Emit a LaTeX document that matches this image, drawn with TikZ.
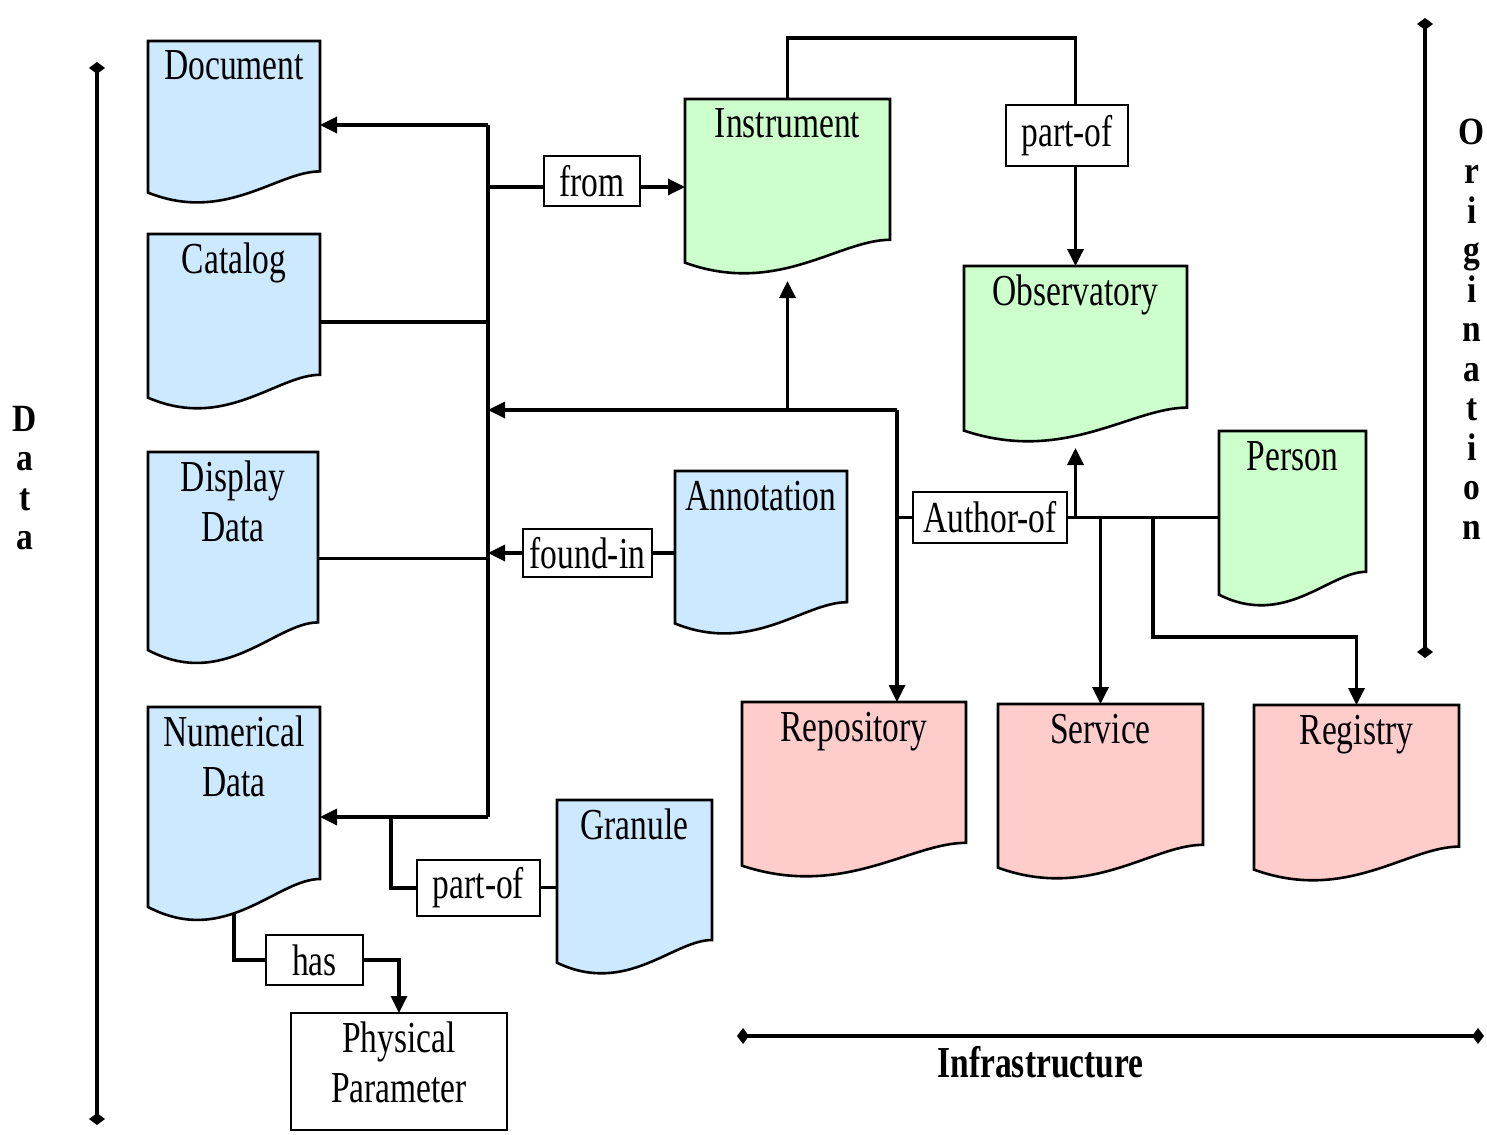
\documentclass[tikz,border=0pt]{standalone}
\usepackage{fontspec}
\setmainfont{Liberation Serif}
\usepackage{graphicx}
\usetikzlibrary{arrows.meta,calc,backgrounds}
\definecolor{dblue}{RGB}{204,233,255}
\definecolor{dgreen}{RGB}{204,255,204}
\definecolor{dpink}{RGB}{255,204,204}
\newcommand\vs[1]{\scalebox{1}[1.32]{#1}}
\newcommand\vl[1]{\scalebox{1}[1.15]{#1}}
\newcommand\mainfnt{\fontsize{33.5}{50}\selectfont}
\newcommand\axfnt{\fontsize{33.5}{39.5}\selectfont\bfseries}
\newcommand\dtext[3]{\parbox[t][#2pt][t]{#1pt}{\centering\rule{0pt}{39pt}#3}}
\newcommand\docoutline[2]{%
  \path[docline,fill=#2] let \p1=(#1.north west), \p2=(#1.south east) in
    (\x1,\y1) -- (\x2,\y1) -- (\x2,{\y1-0.80*(\y1-\y2)})
    .. controls ({\x1+0.75*(\x2-\x1)},{\y1-0.80*(\y1-\y2)}) and ({\x1+0.45*(\x2-\x1)},{\y1-1.12*(\y1-\y2)})
    .. (\x1,{\y1-0.93*(\y1-\y2)}) -- cycle;}
\tikzset{
  docnode/.style={inner sep=0pt, outer sep=0pt, anchor=north west, font=\mainfnt},
  docline/.style={draw=black, line width=2.6pt, line join=miter},
  lblbox/.style={draw=black, fill=white, line width=2.6pt, inner sep=0pt, outer sep=0pt, font=\mainfnt},
  conn/.style={line width=3.4pt},
  bus/.style={line width=4.8pt},
  arr/.style={arrows={-Triangle[length=17pt,width=16pt]}},
  axis/.style={line width=3.6pt, arrows={Diamond[length=12pt,width=16pt]-Diamond[length=12pt,width=16pt]}},
  axlbl/.style={font=\axfnt, align=center, inner sep=0pt}
}
\begin{document}
\begin{tikzpicture}[x=1pt,y=-1pt]
\useasboundingbox (0,0) rectangle (1487,1134);

% document-shaped nodes
\node[docnode] (document) at (148,41) {\dtext{172}{163}{\vs{Document}}};
\node[docnode] (catalog) at (148,234) {\dtext{172}{176}{\vs{Catalog}}};
\node[docnode] (display) at (148,452) {\dtext{170}{213}{\vs{Display}\\\vs{Data}}};
\node[docnode] (numerical) at (148,707) {\dtext{172}{215}{\vs{Numerical}\\\vs{Data}}};
\node[docnode] (instrument) at (685,99) {\dtext{205}{176}{\vs{Instrument}}};
\node[docnode] (observatory) at (964,266) {\dtext{223}{177}{\vs{Observatory}}};
\node[docnode] (person) at (1219,431) {\dtext{147}{176}{\vs{Person}}};
\node[docnode] (annotation) at (675,471) {\dtext{172}{164}{\vs{Annotation}}};
\node[docnode] (granule) at (557,800) {\dtext{155}{175}{\vs{Granule}}};
\node[docnode] (repository) at (742,702) {\dtext{224}{176}{\vs{Repository}}};
\node[docnode] (service) at (998,704) {\dtext{205}{176}{\vs{Service}}};
\node[docnode] (registry) at (1254,705) {\dtext{205}{177}{\vs{Registry}}};
\node[docnode, draw=black, fill=white, line width=2.6pt] (physical) at (291,1013) {\dtext{216}{117}{\vs{Physical}\\\vs{Parameter}}};

% relation labels
\node[lblbox, minimum width=96pt, minimum height=50pt] (from) at (592,181) {\vs{from}};
\node[lblbox, minimum width=122pt, minimum height=61pt] (partofA) at (1067,135.5) {\vs{part-of}};
\node[lblbox, minimum width=129pt, minimum height=48pt] (foundin) at (587.5,553) {\vs{found-in}};
\node[lblbox, minimum width=154pt, minimum height=51pt] (authorof) at (990,517.5) {\vs{Author-of}};
\node[lblbox, minimum width=123pt, minimum height=56pt] (partofB) at (478.5,888) {\vs{part-of}};
\node[lblbox, minimum width=97pt, minimum height=50pt] (has) at (314.5,960) {\vs{has}};

\begin{pgfonlayer}{background}
\fill[white] (0,0) rectangle (1487,1134);
\docoutline{document}{dblue}
\docoutline{catalog}{dblue}
\docoutline{display}{dblue}
\docoutline{numerical}{dblue}
\docoutline{annotation}{dblue}
\docoutline{granule}{dblue}
\docoutline{instrument}{dgreen}
\docoutline{observatory}{dgreen}
\docoutline{person}{dgreen}
\docoutline{repository}{dpink}
\docoutline{service}{dpink}
\docoutline{registry}{dpink}
\end{pgfonlayer}

% junction coordinates
\coordinate (bustop) at (488,125);
\coordinate (busbot) at (488,817);
\coordinate (jr) at (897,410);
\coordinate (toploop) at (1075.5,38);
\coordinate (regj) at (1153,518);
\coordinate (regturn) at (1153,637);
\coordinate (pj) at (391,817);

% left bus
\draw[bus] (bustop) -- (busbot);
\draw[conn,arr] (bustop) -- (document.east |- bustop);
\draw[conn,arr] (busbot) -- (numerical.east |- busbot);
\draw[conn] (catalog.east) -- (catalog.east -| bustop);
\draw[conn] (display.east) -- (display.east -| bustop);
\draw[conn] (instrument.west -| bustop) -- (instrument.west -| from.west);
\draw[conn,arr] (instrument.west -| from.east) -- (instrument.west);
\draw[conn,arr] (jr) -- (jr -| bustop);
\draw[conn,arr] (jr) -- (jr |- repository.north);
\draw[conn,arr,shorten >=6pt] (instrument.south |- jr) -- (instrument.south);

% instrument part-of observatory
\draw[conn] (instrument.north) |- (toploop) -- (toploop |- partofA.north);
\draw[conn,arr] (partofA.south -| observatory.north) -- (observatory.north);

% author-of
\draw[conn] (authorof.west) -- (authorof.west -| jr);
\draw[conn] (authorof.east) -- (person.west |- authorof.east);
\draw[conn,arr,shorten >=5pt] (observatory.south |- authorof.east) -- (observatory.south);
\draw[conn,arr] (service.north |- authorof.east) -- (service.north);
\draw[conn,arr] (regj) -- (regturn) -| (registry.north);

% found-in
\draw[conn] (annotation.west) -- (foundin.east |- annotation.west);
\draw[conn,arr] (foundin.west) -- (foundin.west -| bustop);

% granule part-of
\draw[conn] (granule.west) -- (partofB.east |- granule.west);
\draw[conn] (partofB.west) -| (pj);

% has
\draw[conn,shorten <=-8pt] (numerical.south) |- (has.west);
\draw[conn,arr] (has.east) -| (physical.north);

% axes
\coordinate (dataT) at (97,62);
\coordinate (dataB) at (97,1125);
\coordinate (origT) at (1425,18);
\coordinate (origB) at (1425,658);
\coordinate (infL) at (737,1036);
\coordinate (infR) at (1484,1036);
\draw[axis] (dataT) -- (dataB);
\draw[axis] (origT) -- (origB);
\draw[axis] (infL) -- (infR);
\node[axlbl] (datalbl) at (25,478) {\vl{D}\\\vl{a}\\\vl{t}\\\vl{a}};
\node[axlbl] (origlbl) at (1472,329) {\vl{O}\\\vl{r}\\\vl{i}\\\vl{g}\\\vl{i}\\\vl{n}\\\vl{a}\\\vl{t}\\\vl{i}\\\vl{o}\\\vl{n}};
\node[font=\axfnt, inner sep=0pt, anchor=base] (inflbl) at (1040.5,1077) {\vs{Infrastructure}};
\end{tikzpicture}
\end{document}
